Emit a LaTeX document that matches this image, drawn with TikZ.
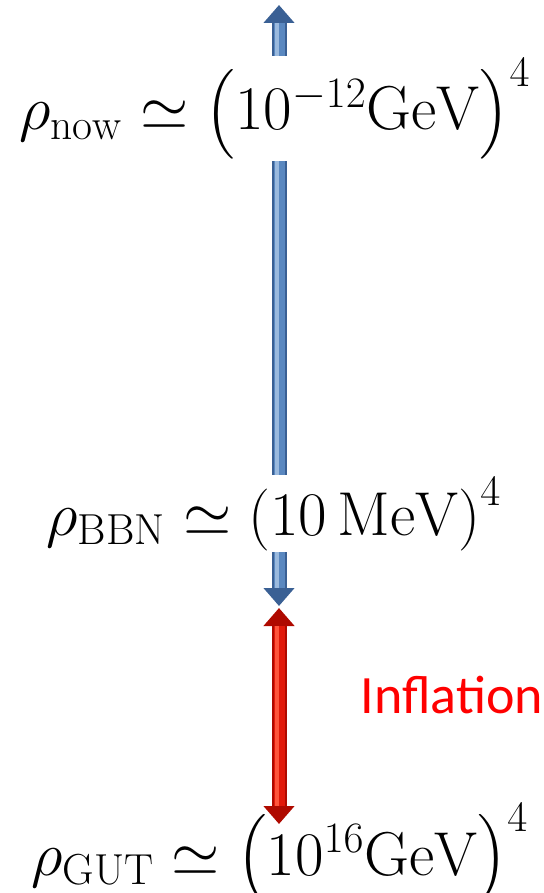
\RequirePackage{fix-cm}
\documentclass[tikz,border=0pt]{standalone}
\usepackage{amsmath}
\usepackage{fontspec}
\newfontfamily\calfont{Carlito}
\usetikzlibrary{arrows.meta,positioning}

\definecolor{blueedge}{RGB}{58,96,148}
\definecolor{bluebody}{RGB}{90,136,192}
\definecolor{bluemid}{RGB}{155,186,222}
\definecolor{rededge}{RGB}{175,10,0}
\definecolor{redbody}{RGB}{225,25,10}
\definecolor{redmid}{RGB}{255,85,60}

\begin{document}
\begin{tikzpicture}[
  x=0.5pt, y=-0.5pt,
  lab/.style    = {fill=white, inner sep=1pt, anchor=base,
                   font=\fontsize{31}{37}\selectfont},
  shaft/.style  = {line width=7.5pt,
                   {Triangle[width=15pt,length=9pt]}-{Triangle[width=15pt,length=9pt]}},
  body/.style   = {line width=5.5pt, shorten <=9pt, shorten >=9pt},
  gloss/.style  = {line width=2pt, shorten <=9pt, shorten >=9pt,
                   transform canvas={xshift=-0.8pt}}
]
\useasboundingbox (0,0) rectangle (544,893);

\coordinate (top) at (279,5);
\coordinate (mid) at (279,606);
\coordinate (bot) at (279,824);

% blue arrow runs behind the upper labels
\draw[shaft, blueedge] (top) -- (mid);
\draw[body, bluebody]  (top) -- (mid);
\draw[gloss, bluemid]  (top) -- (mid);

\node[lab] (now) at (275,130)
  {$\rho_{\mathrm{now}} \simeq \left(10^{-12}\mathrm{GeV}\right)^4$};
\node[lab] (bbn) at (274,535)
  {$\rho_{\mathrm{BBN}} \simeq \left(10\,\mathrm{MeV}\right)^4$};
\node[lab] (gut) at (280,875)
  {$\rho_{\mathrm{GUT}} \simeq \left(10^{16}\mathrm{GeV}\right)^4$};

% red arrow on top, its tip reaches into the GUT label
\draw[shaft, rededge]  ([yshift=-1pt]mid) -- (bot);
\draw[body, redbody]   ([yshift=-1pt]mid) -- (bot);
\draw[gloss, redmid]   ([yshift=-1pt]mid) -- (bot);

\node[anchor=base, text=red, font=\calfont\fontsize{27}{32}\selectfont]
  (infl) at (452,713) {Inflation};

\end{tikzpicture}
\end{document}
